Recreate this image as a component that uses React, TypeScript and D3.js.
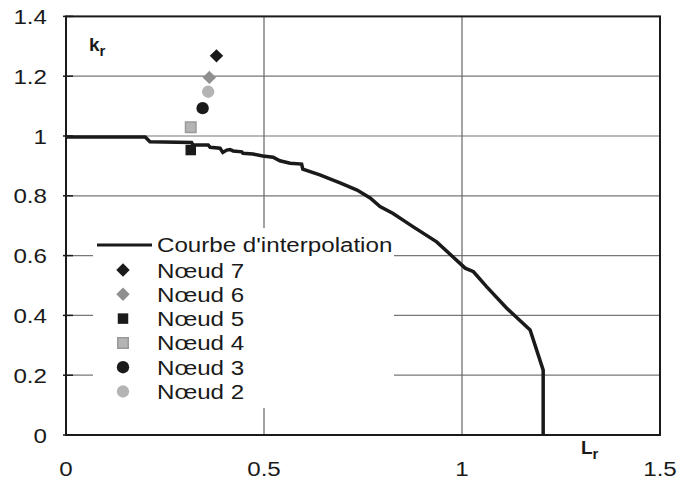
import React from 'react'
import * as d3 from 'd3'

// interpolation curve (L_r, k_r)
const curveL = [0, 0.2, 0.212, 0.317, 0.321, 0.359, 0.364, 0.389, 0.396, 0.406, 0.414, 0.422, 0.444, 0.447, 0.472, 0.497, 0.523, 0.54, 0.566, 0.595, 0.598, 0.641, 0.692, 0.735, 0.768, 0.793, 0.826, 0.876, 0.936, 0.999, 1.008, 1.029, 1.062, 1.113, 1.172, 1.205, 1.205]
const curveK = [0.997, 0.997, 0.981, 0.978, 0.97, 0.97, 0.962, 0.959, 0.945, 0.953, 0.955, 0.95, 0.947, 0.942, 0.94, 0.933, 0.929, 0.917, 0.909, 0.906, 0.889, 0.87, 0.843, 0.819, 0.793, 0.764, 0.741, 0.697, 0.646, 0.569, 0.558, 0.546, 0.496, 0.424, 0.351, 0.217, 0]

const nodeNames = ['Nœud 7', 'Nœud 6', 'Nœud 5', 'Nœud 4', 'Nœud 3', 'Nœud 2']
const nodeL = [0.38, 0.362, 0.315, 0.315, 0.345, 0.359]
const nodeK = [1.268, 1.196, 0.953, 1.029, 1.093, 1.148]
const nodeShape = ['diamond', 'diamond', 'square', 'square', 'circle', 'circle']
const nodeFill = ['#1a1a1a', '#8f8f8f', '#1a1a1a', '#b4b4b4', '#1a1a1a', '#b4b4b4']
const nodeStroke = ['none', 'none', 'none', '#999999', 'none', 'none']

const yTicks = [0, 0.2, 0.4, 0.6, 0.8, 1, 1.2, 1.4]
const xTicks = [0, 0.5, 1, 1.5]
const curveLabel = "Courbe d'interpolation"

const W = 692
const H = 481
const FS = 21
const SX = 1.15

function marker(shape: string) {
  if (shape === 'diamond') return d3.symbol(d3.symbolSquare, 90)()
  if (shape === 'square') return d3.symbol(d3.symbolSquare, 110)()
  return d3.symbol(d3.symbolCircle, 120)()
}

function Txt(props: {x: number, y: number, anchor?: string, size?: number, weight?: string, children: any}) {
  return (
    <text
      transform={`translate(${props.x},${props.y}) scale(${SX},1)`}
      textAnchor={props.anchor || 'start'}
      fontSize={props.size || FS}
      fontWeight={props.weight || 'normal'}
      fill="#1a1a1a"
    >
      {props.children}
    </text>
  )
}

export default function App() {
  const x = d3.scaleLinear().domain([0, 1.5]).range([66, 660])
  const y = d3.scaleLinear().domain([0, 1.4]).range([435, 16.4])

  const curve = curveL.map((l, i) => [l, curveK[i]] as [number, number])
  const line = d3
    .line<[number, number]>()
    .x(d => x(d[0]))
    .y(d => y(d[1]))

  const legendX = 93
  const legendY = 228
  const rowH = 24.3

  return (
    <svg width={W} height={H} style={{position: 'absolute', left: 0, top: 0}} fontFamily="'Liberation Sans', Arial, sans-serif">
      <rect x={0} y={0} width={W} height={H} fill="white" />

      {/* grid */}
      {yTicks.slice(1, -1).map(t => (
        <line key={'gy' + t} x1={x(0)} x2={x(1.5)} y1={y(t)} y2={y(t)} stroke="#777" strokeWidth={1.2} />
      ))}
      {xTicks.slice(1, -1).map(t => (
        <line key={'gx' + t} x1={x(t)} x2={x(t)} y1={y(0)} y2={y(1.4)} stroke="#666" strokeWidth={1.2} />
      ))}

      {/* y ticks */}
      {yTicks.map(t => (
        <line key={'ty' + t} x1={x(0) - 3} x2={x(0) + 7} y1={y(t)} y2={y(t)} stroke="#1a1a1a" strokeWidth={1.5} />
      ))}

      {/* legend box */}
      <rect x={legendX} y={legendY} width={301} height={180} fill="white" />

      {/* curve */}
      <path d={line(curve) || ''} fill="none" stroke="#1a1a1a" strokeWidth={3.5} strokeLinejoin="miter" />
      <line x1={x(1.205)} x2={x(1.205)} y1={y(0.217)} y2={y(0)} stroke="#1a1a1a" strokeWidth={1.5} />

      {/* nodes */}
      {nodeNames.map((n, i) => (
        <path
          key={n}
          d={marker(nodeShape[i]) || ''}
          transform={`translate(${x(nodeL[i])},${y(nodeK[i])})${nodeShape[i] === 'diamond' ? ' rotate(45)' : ''}`}
          fill={nodeFill[i]}
          stroke={nodeStroke[i]}
          strokeWidth={1.5}
        />
      ))}

      {/* frame */}
      <rect x={x(0)} y={y(1.4)} width={x(1.5) - x(0)} height={y(0) - y(1.4)} fill="none" stroke="#1a1a1a" strokeWidth={2} />

      {/* tick labels */}
      {yTicks.map(t => (
        <Txt key={'ly' + t} x={47} y={y(t) + 7.5} anchor="end">
          {d3.format('')(+t.toFixed(1))}
        </Txt>
      ))}
      {xTicks.map(t => (
        <Txt key={'lx' + t} x={x(t)} y={476} anchor="middle">
          {String(t)}
        </Txt>
      ))}

      {/* axis titles */}
      <text x={89} y={51} fontSize={19} fontWeight="bold" fill="#1a1a1a">
        k<tspan fontSize={15} dy={5}>r</tspan>
      </text>
      <text x={581} y={454} fontSize={19} fontWeight="bold" fill="#1a1a1a">
        L<tspan fontSize={15} dy={5}>r</tspan>
      </text>

      {/* legend */}
      <line x1={97} x2={152} y1={245} y2={245} stroke="#1a1a1a" strokeWidth={3} />
      <Txt x={157} y={252}>{curveLabel}</Txt>
      {nodeNames.map((n, i) => {
        const cy = 270 + i * rowH
        return (
          <g key={'lg' + n}>
            <path
              d={marker(nodeShape[i]) || ''}
              transform={`translate(123,${cy})${nodeShape[i] === 'diamond' ? ' rotate(45)' : ''}`}
              fill={nodeFill[i]}
              stroke={nodeStroke[i]}
              strokeWidth={1.5}
            />
            <Txt x={157} y={cy + 7.5}>{n}</Txt>
          </g>
        )
      })}
    </svg>
  )
}
